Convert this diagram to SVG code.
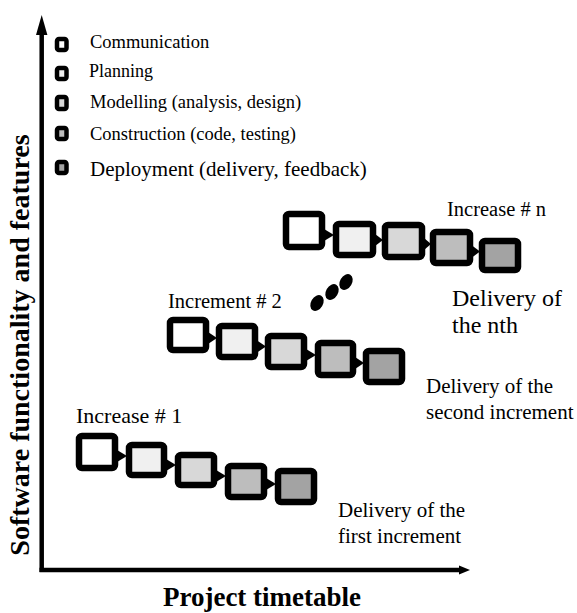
<svg xmlns="http://www.w3.org/2000/svg" width="577" height="613" viewBox="0 0 577 613">
<style>
  .box { stroke: #000; stroke-width: 6.5; }
  .lg { stroke: #000; stroke-width: 4.5; }
  .t { font-family: "Liberation Serif", "Times New Roman", serif; fill: #000; }
  .b { font-weight: bold; }
  .c1 { fill: #ffffff; }
  .c2 { fill: #f0f0f0; }
  .c3 { fill: #d8d8d8; }
  .c4 { fill: #bdbdbd; }
  .c5 { fill: #a3a3a3; }
</style>
<rect width="577" height="613" fill="#fff"/>
<g id="axes">
  <line x1="41.7" y1="30" x2="41.7" y2="572" stroke="#000" stroke-width="4.5"/>
  <polygon points="41.7,15 36,35 47.4,35" fill="#000"/>
  <line x1="39.5" y1="570" x2="462" y2="570" stroke="#000" stroke-width="4.5"/>
  <polygon points="459,565.5 470,570 459,574.5" fill="#000"/>
  <text class="t b" x="29" y="345" font-size="28" text-anchor="middle" transform="rotate(-90 29 345)">Software functionality and features</text>
  <text class="t b" x="262" y="606" font-size="27" text-anchor="middle">Project timetable</text>
</g>
<g id="legend">
  <rect class="lg c1" x="57" y="39" width="9.5" height="11" rx="2"/>
  <rect class="lg c2" x="57" y="68" width="9.5" height="11" rx="2"/>
  <rect class="lg c3" x="57" y="97" width="9.5" height="12" rx="2"/>
  <rect class="lg c4" x="57" y="128" width="9.5" height="11" rx="2"/>
  <rect class="lg c5" x="57" y="162" width="9.5" height="11" rx="2"/>
  <text class="t" x="90" y="48" font-size="18.5">Communication</text>
  <text class="t" x="89" y="77" font-size="18">Planning</text>
  <text class="t" x="90" y="108" font-size="18.5">Modelling (analysis, design)</text>
  <text class="t" x="90" y="140" font-size="18.5">Construction (code, testing)</text>
  <text class="t" x="90" y="176" font-size="21">Deployment (delivery, feedback)</text>
</g>
<g id="inc1">
  <rect class="box c1" x="79" y="436" width="36" height="32" rx="3"/>
  <rect class="box c2" x="129" y="445" width="35" height="30" rx="3"/>
  <rect class="box c3" x="178" y="455" width="36" height="30" rx="3"/>
  <rect class="box c4" x="228" y="466" width="36" height="31" rx="3"/>
  <rect class="box c5" x="278" y="471" width="36" height="31" rx="3"/>
  <text class="t" x="76" y="423" font-size="22">Increase # 1</text>
  <text class="t" x="338" y="517" font-size="21">Delivery of the</text>
  <text class="t" x="338" y="543" font-size="21">first increment</text>
</g>
<g id="inc2">
  <rect class="box c1" x="170" y="320" width="36" height="30" rx="3"/>
  <rect class="box c2" x="219" y="326" width="36" height="31" rx="3"/>
  <rect class="box c3" x="268" y="336" width="36" height="31" rx="3"/>
  <rect class="box c4" x="318" y="343" width="35" height="32" rx="3"/>
  <rect class="box c5" x="366" y="351" width="36" height="31" rx="3"/>
  <text class="t" x="168" y="308" font-size="20.5">Increment # 2</text>
  <text class="t" x="426" y="393" font-size="21">Delivery of the</text>
  <text class="t" x="426" y="419" font-size="21">second increment</text>
</g>
<g id="incn">
  <rect class="box c1" x="286" y="214" width="36" height="33" rx="3"/>
  <rect class="box c2" x="336" y="224" width="37" height="31" rx="3"/>
  <rect class="box c3" x="385" y="225" width="37" height="32" rx="3"/>
  <rect class="box c4" x="433" y="232" width="37" height="31" rx="3"/>
  <rect class="box c5" x="482" y="241" width="36" height="29" rx="3"/>
  <text class="t" x="447" y="216" font-size="20.5">Increase # n</text>
  <text class="t" x="452" y="306" font-size="24">Delivery of</text>
  <text class="t" x="452" y="333" font-size="24">the nth</text>
</g>
<g id="dots" fill="#000">
  <ellipse cx="317" cy="303" rx="6" ry="8.5" transform="rotate(30 317 303)"/>
  <ellipse cx="332" cy="292" rx="6" ry="8.5" transform="rotate(30 332 292)"/>
  <ellipse cx="346" cy="282" rx="6" ry="8.5" transform="rotate(30 346 282)"/>
</g>
<g id="connectors" fill="#000">
  <polygon points="117,450 127,456 117,462"/>
  <polygon points="166,459 176,465 166,471"/>
  <polygon points="216,470 226,476 216,482"/>
  <polygon points="266,478 276,484 266,490"/>
  <polygon points="208,332 217,338 208,344"/>
  <polygon points="257,340.5 266,346.5 257,352.5"/>
  <polygon points="306,349 316,355 306,361"/>
  <polygon points="355,357 364,363 355,369"/>
  <polygon points="324,229 334,235 324,241"/>
  <polygon points="375,234 383,240 375,246"/>
  <polygon points="424,238 431,244 424,250"/>
  <polygon points="472,245.5 480,251.5 472,257.5"/>
</g>
</svg>
